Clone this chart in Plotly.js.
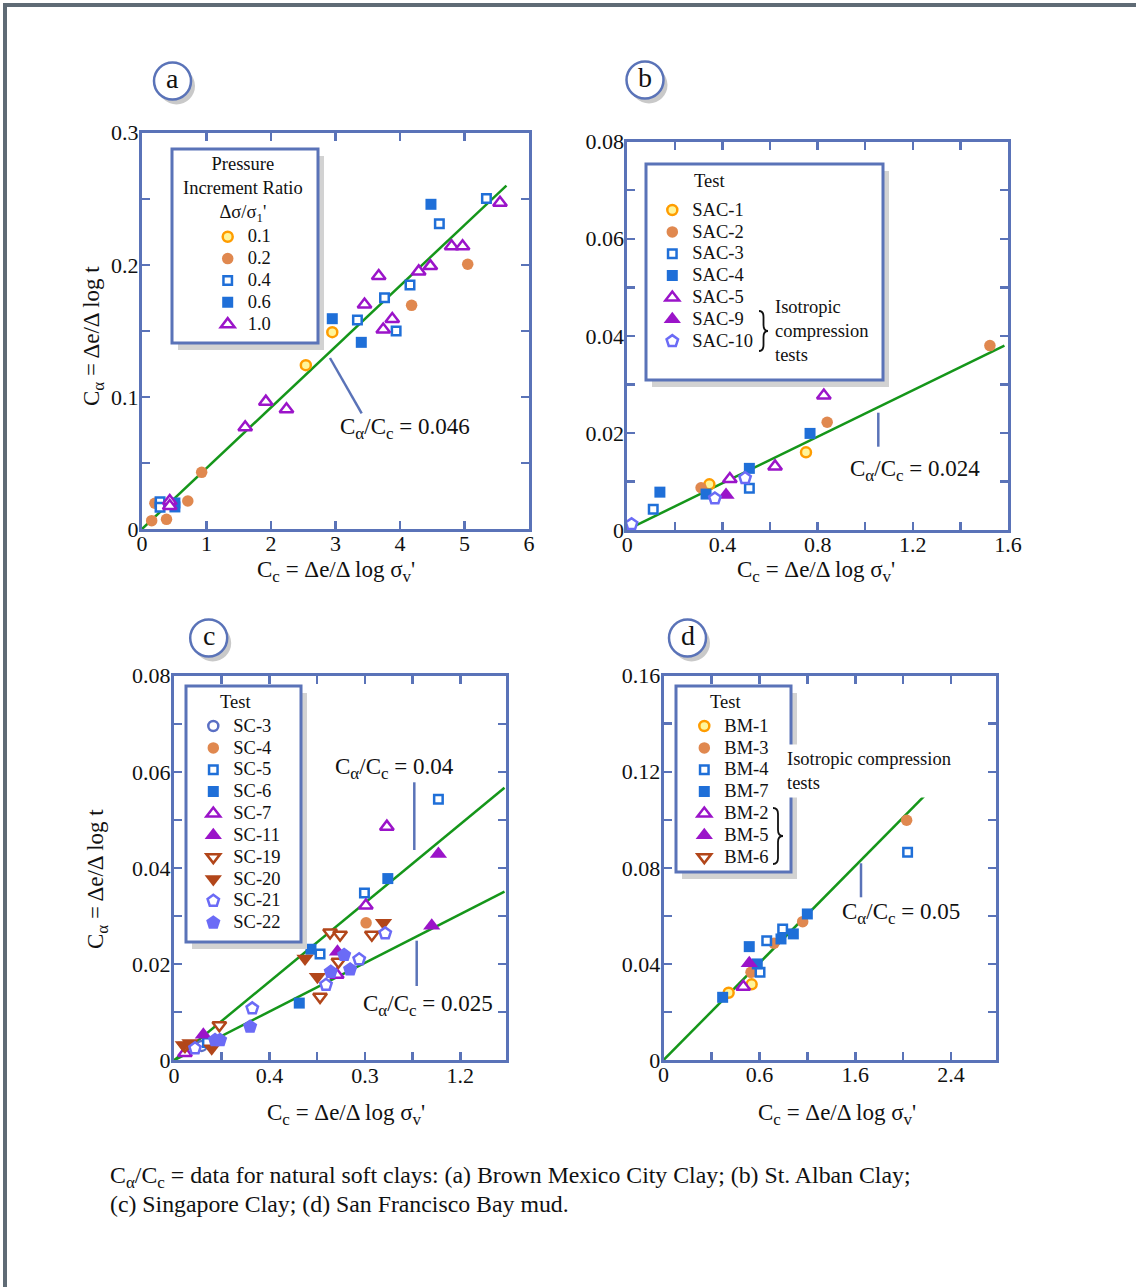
<!DOCTYPE html>
<html><head><meta charset="utf-8">
<script src="https://cdn.plot.ly/plotly-3.0.1.min.js"></script>
<style>html,body{margin:0;padding:0;background:#fff}#chart{width:1136px;height:1287px}</style>
</head><body><div id="chart"></div><script>
// ---------- Panel (a): Brown Mexico City Clay ----------
const aP01X = [2.54, 2.95];
const aP01Y = [0.124, 0.149];
const aP02X = [0.15, 0.20, 0.38, 0.71, 0.925, 4.18, 5.05];
const aP02Y = [0.0063, 0.0195, 0.0073, 0.0212, 0.0429, 0.1693, 0.2004];
const aP04X = [0.28, 0.28, 3.34, 3.76, 3.94, 4.155, 4.61, 5.34];
const aP04Y = [0.0207, 0.0164, 0.1582, 0.1751, 0.1499, 0.1847, 0.2311, 0.2501];
const aP06X = [0.51, 0.51, 2.95, 3.40, 4.48];
const aP06Y = [0.0197, 0.0167, 0.1592, 0.1413, 0.2458];
const aP10X = [0.43, 0.43, 1.60, 1.92, 2.24, 3.45, 3.67, 3.74, 3.88, 4.29, 4.47, 4.80, 4.97, 5.55];
const aP10Y = [0.0212, 0.0174, 0.077, 0.0964, 0.0906, 0.170, 0.1915, 0.151, 0.159, 0.195, 0.199, 0.214, 0.214, 0.247];
const aLineX = [0, 5.65];
const aLineY = [0, 0.26];
const aXTicks = [0, 1, 2, 3, 4, 5, 6];
const aXLabels = ['0', '1', '2', '3', '4', '5', '6'];
const aYTicks = [0, 0.1, 0.2, 0.3];
const aYLabels = ['0', '0.1', '0.2', '0.3'];
const aYMinor = [0.05, 0.15, 0.25];

// ---------- Panel (b): St. Alban Clay ----------
const bS1X = [0.345, 0.751];          const bS1Y = [0.0094, 0.0160];
const bS2X = [0.310, 0.840, 1.524];   const bS2Y = [0.0087, 0.0222, 0.0380];
const bS3X = [0.109, 0.513];          const bS3Y = [0.0043, 0.0086];
const bS4X = [0.137, 0.331, 0.513, 0.768]; const bS4Y = [0.0078, 0.0074, 0.0127, 0.0199];
const bS5X = [0.431, 0.621, 0.826];   const bS5Y = [0.0105, 0.0131, 0.0277];
const bS9X = [0.415];                 const bS9Y = [0.0072];
const bS10X = [0.018, 0.368, 0.495];  const bS10Y = [0.0012, 0.0065, 0.0107];
const bLineX = [0.03, 1.585];
const bLineY = [0.0008, 0.038];
const bXTicks = [0, 0.4, 0.8, 1.2, 1.6];
const bXLabels = ['0', '0.4', '0.8', '1.2', '1.6'];
const bXMinor = [0.2, 0.6, 1.0, 1.4];
const bYTicks = [0, 0.02, 0.04, 0.06, 0.08];
const bYLabels = ['0', '0.02', '0.04', '0.06', '0.08'];
const bYMinor = [0.01, 0.03, 0.05, 0.07];

// ---------- Panel (c): Singapore Clay ----------
const cSC3X = [0.116];                       const cSC3Y = [0.0030];
const cSC4X = [0.805];                       const cSC4Y = [0.0286];
const cSC5X = [0.14, 0.612, 0.798, 1.108];   const cSC5Y = [0.0037, 0.0221, 0.0348, 0.0543];
const cSC6X = [0.525, 0.574, 0.896];         const cSC6Y = [0.0119, 0.0231, 0.0378];
const cSC7X = [0.046, 0.682, 0.804, 0.892];  const cSC7Y = [0.0015, 0.0178, 0.0322, 0.0486];
const cSC11X = [0.123, 0.685, 1.080, 1.108]; const cSC11Y = [0.0053, 0.0226, 0.0280, 0.0429];
const cSC19X = [0.046, 0.19, 0.612, 0.654, 0.696, 0.689, 0.829];
const cSC19Y = [0.0030, 0.0073, 0.0132, 0.0266, 0.0261, 0.0205, 0.0261];
const cSC20X = [0.039, 0.067, 0.158, 0.549, 0.601, 0.878];
const cSC20Y = [0.0032, 0.0036, 0.0025, 0.0212, 0.0174, 0.0286];
const cSC21X = [0.088, 0.328, 0.637, 0.776, 0.885];
const cSC21Y = [0.0025, 0.0108, 0.0157, 0.0210, 0.0264];
const cSC22X = [0.172, 0.193, 0.319, 0.657, 0.713, 0.738];
const cSC22Y = [0.0042, 0.0042, 0.0070, 0.0184, 0.0219, 0.0189];
const cLine1X = [0, 1.385]; const cLine1Y = [0, 0.0567];
const cLine2X = [0, 1.385]; const cLine2Y = [0, 0.0351];
const cXTicks = [0, 0.4, 0.8, 1.2];
const cXLabels = ['0', '0.4', '0.3', '1.2'];
const cXMinor = [0.2, 0.6, 1.0];
const cYTicks = [0, 0.02, 0.04, 0.06, 0.08];
const cYLabels = ['0', '0.02', '0.04', '0.06', '0.08'];
const cYMinor = [0.01, 0.03, 0.05, 0.07];

// ---------- Panel (d): San Francisco Bay mud ----------
const dBM1X = [0.543, 0.735];                const dBM1Y = [0.0280, 0.0315];
const dBM3X = [0.730, 0.922, 1.161, 2.029];  const dBM3Y = [0.0365, 0.0486, 0.0576, 0.0998];
const dBM4X = [0.805, 0.861, 0.994, 2.037];  const dBM4Y = [0.0365, 0.0497, 0.0545, 0.0865];
const dBM7X = [0.493, 0.715, 0.782, 0.980, 1.083, 1.200];
const dBM7Y = [0.0261, 0.0472, 0.0400, 0.0504, 0.0525, 0.0608];
const dBM2X = [0.665]; const dBM2Y = [0.0305];
const dBM5X = [0.715]; const dBM5Y = [0.0403];
const dBM6X = [null];  const dBM6Y = [null];   // listed in legend, no points plotted
const dLineX = [0, 2.363]; const dLineY = [0, 0.1193];
const dXTicks = [0, 0.8, 1.6, 2.4];
const dXLabels = ['0', '0.6', '1.6', '2.4'];
const dXMinor = [0.4, 1.2, 2.0];
const dYTicks = [0, 0.04, 0.08, 0.12, 0.16];
const dYLabels = ['0', '0.04', '0.08', '0.12', '0.16'];
const dYMinor = [0.02, 0.06, 0.10, 0.14];

// ---------- styling ----------
const W = 1136, H = 1287;
const F = 'Liberation Serif, Times New Roman, serif';
const FRAME = '#5a73b8';
const GREEN = '#15961a';
const ORANGE = '#ff9d00', ORFILL = '#fff59a', BROWNOR = '#e0884f';
const BLUE = '#1f6fd8', PURPLE = '#9b14c9', BROWN = '#b2461a', PERI = '#6b6bf6', SC3C = '#5a6fc4';
const px = v => v / W;
const py = v => 1 - v / H;

const M = {
  openCircle: {symbol: 'circle', size: 10, color: ORFILL, line: {color: ORANGE, width: 2.5}},
  fillCircle: {symbol: 'circle', size: 11.5, color: BROWNOR, line: {width: 0}},
  openSquare: {symbol: 'square', size: 8.5, color: '#fff', line: {color: BLUE, width: 2.5}},
  fillSquare: {symbol: 'square', size: 11, color: BLUE, line: {width: 0}},
  openTri: {symbol: 'triangle-up', size: 12, color: '#fff', line: {color: PURPLE, width: 2.5}},
  fillTri: {symbol: 'triangle-up', size: 15, color: PURPLE, line: {width: 0}},
  openDown: {symbol: 'triangle-down', size: 12, color: '#fff', line: {color: BROWN, width: 2.5}},
  fillDown: {symbol: 'triangle-down', size: 15, color: BROWN, line: {width: 0}},
  openPent: {symbol: 'pentagon', size: 12, color: '#fff', line: {color: PERI, width: 2.5}},
  fillPent: {symbol: 'pentagon', size: 15, color: PERI, line: {width: 0}},
  sc3: {symbol: 'circle', size: 10, color: '#fff', line: {color: SC3C, width: 2.5}}
};

function pts(name, x, y, n, legend, marker) {
  return {type: 'scatter', mode: 'markers', name: '<span style="font-size:18.5px">' + name + '</span>',
    x: x, y: y, xaxis: 'x' + n, yaxis: 'y' + n, legend: legend, marker: marker, cliponaxis: false};
}
function line(x, y, n) {
  return {type: 'scatter', mode: 'lines', x: x, y: y, xaxis: 'x' + n, yaxis: 'y' + n,
    line: {color: GREEN, width: 2.5}, showlegend: false, hoverinfo: 'skip'};
}

const data = [
  line(aLineX, aLineY, ''),
  pts('0.1', aP01X, aP01Y, '', 'legend', M.openCircle),
  pts('0.2', aP02X, aP02Y, '', 'legend', M.fillCircle),
  pts('0.4', aP04X, aP04Y, '', 'legend', M.openSquare),
  pts('0.6', aP06X, aP06Y, '', 'legend', M.fillSquare),
  pts('1.0', aP10X, aP10Y, '', 'legend', M.openTri),

  line(bLineX, bLineY, '2'),
  pts('SAC-1', bS1X, bS1Y, '2', 'legend2', M.openCircle),
  pts('SAC-2', bS2X, bS2Y, '2', 'legend2', M.fillCircle),
  pts('SAC-3', bS3X, bS3Y, '2', 'legend2', M.openSquare),
  pts('SAC-4', bS4X, bS4Y, '2', 'legend2', M.fillSquare),
  pts('SAC-5', bS5X, bS5Y, '2', 'legend2', M.openTri),
  pts('SAC-9', bS9X, bS9Y, '2', 'legend2', M.fillTri),
  pts('SAC-10', bS10X, bS10Y, '2', 'legend2', M.openPent),

  line(cLine1X, cLine1Y, '3'),
  line(cLine2X, cLine2Y, '3'),
  pts('SC-3', cSC3X, cSC3Y, '3', 'legend3', M.sc3),
  pts('SC-4', cSC4X, cSC4Y, '3', 'legend3', M.fillCircle),
  pts('SC-5', cSC5X, cSC5Y, '3', 'legend3', M.openSquare),
  pts('SC-6', cSC6X, cSC6Y, '3', 'legend3', M.fillSquare),
  pts('SC-7', cSC7X, cSC7Y, '3', 'legend3', M.openTri),
  pts('SC-11', cSC11X, cSC11Y, '3', 'legend3', M.fillTri),
  pts('SC-19', cSC19X, cSC19Y, '3', 'legend3', M.openDown),
  pts('SC-20', cSC20X, cSC20Y, '3', 'legend3', M.fillDown),
  pts('SC-21', cSC21X, cSC21Y, '3', 'legend3', M.openPent),
  pts('SC-22', cSC22X, cSC22Y, '3', 'legend3', M.fillPent),

  line(dLineX, dLineY, '4'),
  pts('BM-1', dBM1X, dBM1Y, '4', 'legend4', M.openCircle),
  pts('BM-3', dBM3X, dBM3Y, '4', 'legend4', M.fillCircle),
  pts('BM-4', dBM4X, dBM4Y, '4', 'legend4', M.openSquare),
  pts('BM-7', dBM7X, dBM7Y, '4', 'legend4', M.fillSquare),
  pts('BM-2', dBM2X, dBM2Y, '4', 'legend4', M.openTri),
  pts('BM-5', dBM5X, dBM5Y, '4', 'legend4', M.fillTri),
  pts('BM-6', dBM6X, dBM6Y, '4', 'legend4', M.openDown)
];

function axis(dom, range, vals, texts, minorVals, anchor, standoff) {
  return {domain: dom, range: range, anchor: anchor, tickmode: 'array', tickvals: vals, ticktext: texts,
    minor: {tickmode: 'array', tickvals: minorVals, ticks: 'inside', ticklen: 8, tickwidth: 2.5, tickcolor: FRAME, showgrid: false},
    showline: true, mirror: 'ticks', linecolor: FRAME, linewidth: 3, ticks: 'inside', ticklen: 8,
    tickwidth: 2.5, tickcolor: FRAME, showgrid: false, zeroline: false, fixedrange: true,
    ticklabelstandoff: standoff,
    tickfont: {family: F, size: 22, color: '#111'}};
}
function leg(x, y) {
  return {x: px(x), y: py(y), xanchor: 'left', yanchor: 'top', bgcolor: 'rgba(0,0,0,0)', borderwidth: 0,
    font: {family: F, size: 14.5, color: '#111'}, tracegroupgap: 0, itemclick: false, itemdoubleclick: false};
}
function txt(text, x, y, opts) {
  return Object.assign({text: text, x: px(x), y: py(y), xref: 'paper', yref: 'paper', showarrow: false,
    font: {family: F, size: 23, color: '#111'}, xanchor: 'center', yanchor: 'middle'}, opts || {});
}
function seg(x0, y0, x1, y1) {
  return {type: 'line', xref: 'paper', yref: 'paper', x0: px(x0), y0: py(y0), x1: px(x1), y1: py(y1),
    line: {color: FRAME, width: 2.5}, layer: 'above'};
}
function box(l, t, r, b) {
  return [
    {type: 'rect', xref: 'paper', yref: 'paper', x0: px(l + 6), y0: py(b + 7), x1: px(r + 6), y1: py(t + 7),
      fillcolor: '#d2d2d2', line: {width: 0}, layer: 'above'},
    {type: 'rect', xref: 'paper', yref: 'paper', x0: px(l), y0: py(b), x1: px(r), y1: py(t),
      fillcolor: '#ffffff', line: {color: FRAME, width: 3}, layer: 'above'}
  ];
}
function badge(cx, cy) {
  const r = 18.5;
  return [
    {type: 'circle', xref: 'paper', yref: 'paper', x0: px(cx - r + 4), x1: px(cx + r + 4), y0: py(cy + r + 5), y1: py(cy - r + 5),
      fillcolor: '#c9c9c9', line: {width: 0}, layer: 'above'},
    {type: 'circle', xref: 'paper', yref: 'paper', x0: px(cx - r), x1: px(cx + r), y0: py(cy + r), y1: py(cy - r),
      fillcolor: '#ffffff', line: {color: FRAME, width: 2.5}, layer: 'above'}
  ];
}
function brace(x0, top, bot, w) {
  const xm = x0 + w / 2, mid = (top + bot) / 2, q = 6;
  const P = (x, y) => px(x).toFixed(5) + ',' + py(y).toFixed(5);
  return {type: 'path', xref: 'paper', yref: 'paper', layer: 'above', line: {color: '#111', width: 1.8},
    path: 'M' + P(x0, top) + ' Q' + P(xm, top) + ' ' + P(xm, top + q) + ' L' + P(xm, mid - q) +
      ' Q' + P(xm, mid) + ' ' + P(x0 + w, mid) + ' Q' + P(xm, mid) + ' ' + P(xm, mid + q) +
      ' L' + P(xm, bot - q) + ' Q' + P(xm, bot) + ' ' + P(x0, bot)};
}

const shapes = [].concat(
  [{type: 'line', xref: 'paper', yref: 'paper', x0: px(4), x1: 1, y0: py(5), y1: py(5), line: {color: '#5f6b75', width: 4}},
   {type: 'line', xref: 'paper', yref: 'paper', x0: px(5), x1: px(5), y0: py(3), y1: 0, line: {color: '#5f6b75', width: 4}}],
  box(172, 149, 318, 343),
  box(646, 164, 883, 380),
  box(186, 686, 301, 942),
  box(676, 686, 791, 872),
  badge(172.5, 81), badge(645, 80), badge(208.7, 638), badge(687.5, 638),
  [seg(330, 358, 361.7, 413.3), seg(878.3, 412.7, 878.3, 446.7), seg(414.3, 782.3, 414.3, 850),
   seg(416.7, 940.7, 416.7, 986), seg(861, 863.3, 861, 897.3)],
  [brace(759, 311, 351, 9), brace(773, 808, 864, 10)]
);

const S = t => '<sub><span style="font-size:17px">' + t + '</span></sub>';
const XT = 'C' + S('c') + ' = Δe/Δ log σ' + S('v') + '\'';
const YT = 'C' + S('α') + ' = Δe/Δ log t';
const R = v => 'C' + S('α') + '/C' + S('c') + ' = ' + v;
const LF = {family: F, size: 18.5, color: '#111'};
const annotations = [
  txt('a', 172.5, 79, {font: {family: F, size: 28, color: '#111'}}),
  txt('b', 645, 78, {font: {family: F, size: 28, color: '#111'}}),
  txt('c', 208.7, 636, {font: {family: F, size: 28, color: '#111'}}),
  txt('d', 687.5, 636, {font: {family: F, size: 28, color: '#111'}}),
  txt(XT, 336, 571),
  txt(XT, 816, 571),
  txt(XT, 345.5, 1114),
  txt(XT, 836.7, 1114),
  txt(YT, 93, 336, {textangle: -90}),
  txt(YT, 97, 879, {textangle: -90}),
  txt(R('0.046'), 405, 428),
  txt(R('0.024'), 914.5, 471),
  txt(R('0.04'), 394.5, 768),
  txt(R('0.025'), 428, 1005),
  txt(R('0.05'), 901.3, 913),
  txt('Pressure<br>Increment Ratio<br>Δσ/σ<sub>1</sub>\'', 243, 189, {font: LF}),
  txt('Test', 709.3, 181, {font: LF}),
  txt('Test', 235, 701.7, {font: LF}),
  txt('Test', 725.7, 701.7, {font: LF}),
  txt('Isotropic<br>compression<br>tests', 773, 331, {xanchor: 'left', align: 'left', font: LF}),
  txt('Isotropic compression<br>tests', 782, 771, {xanchor: 'left', align: 'left', bgcolor: '#ffffff', borderpad: 4, font: LF}),
  txt('C' + S('α') + '/C' + S('c') + ' = data for natural soft clays: (a) Brown Mexico City Clay; (b) St. Alban Clay;',
    108, 1177, {xanchor: 'left', align: 'left', font: {family: F, size: 23.8, color: '#111'}}),
  txt('(c) Singapore Clay; (d) San Francisco Bay mud.',
    108, 1204, {xanchor: 'left', align: 'left', font: {family: F, size: 23.8, color: '#111'}})
];

const layout = {
  width: W, height: H, margin: {l: 0, r: 0, t: 0, b: 0, autoexpand: false},
  paper_bgcolor: '#ffffff', plot_bgcolor: '#ffffff', showlegend: true, hovermode: false,
  xaxis: axis([px(142), px(529)], [0, 6], aXTicks, aXLabels, [], 'y', -7),
  yaxis: axis([py(529), py(132.7)], [0, 0.3], aYTicks, aYLabels, aYMinor, 'x', -4),
  xaxis2: axis([px(627.3), px(1008)], [0, 1.6], bXTicks, bXLabels, bXMinor, 'y2', -7),
  yaxis2: axis([py(530), py(141.7)], [0, 0.08], bYTicks, bYLabels, bYMinor, 'x2', -4),
  xaxis3: axis([px(174), px(505.7)], [0, 1.39], cXTicks, cXLabels, cXMinor, 'y3', -7),
  yaxis3: axis([py(1060.3), py(675.7)], [0, 0.08], cYTicks, cYLabels, cYMinor, 'x3', -4),
  xaxis4: axis([px(663.6), px(996)], [0, 2.775], dXTicks, dXLabels, dXMinor, 'y4', -7),
  yaxis4: axis([py(1060), py(675.7)], [0, 0.16], dYTicks, dYLabels, dYMinor, 'x4', -4),
  legend: leg(207.7, 220.8),
  legend2: leg(652.3, 194.1),
  legend3: leg(193.3, 710.1),
  legend4: leg(684.3, 710.1),
  shapes: shapes,
  annotations: annotations
};

Plotly.newPlot('chart', data, layout, {displayModeBar: false, staticPlot: true});
</script></body></html>
